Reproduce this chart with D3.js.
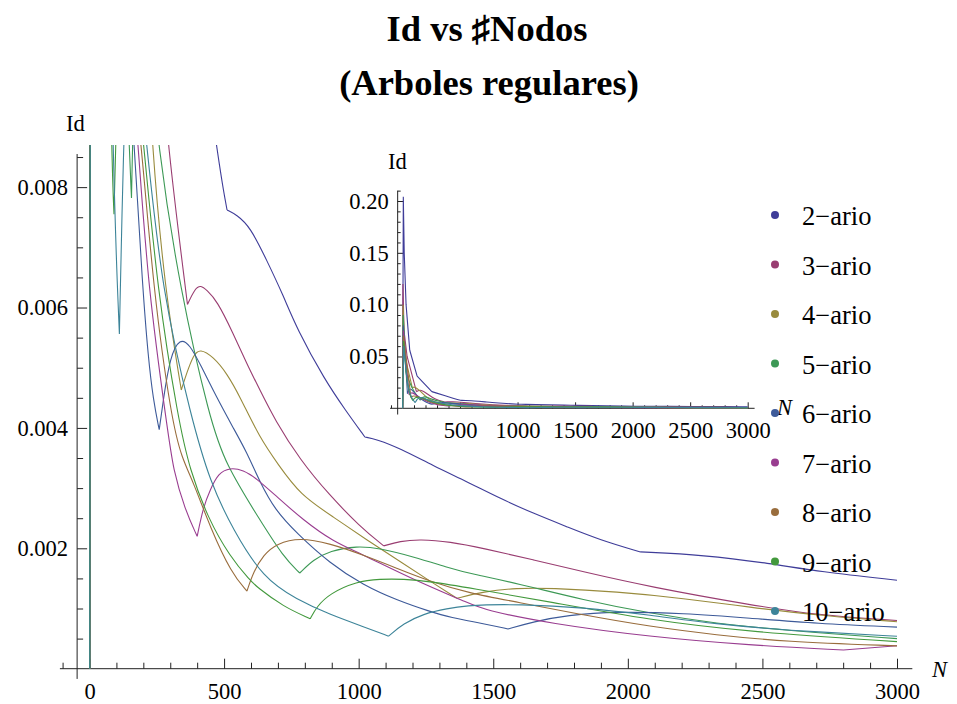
<!DOCTYPE html>
<html>
<head>
<meta charset="utf-8">
<script src="https://cdn.jsdelivr.net/npm/d3@7"></script>
<style>
  body { margin: 0; background: #fff; }
  text { font-family: "Liberation Serif", "Times New Roman", serif; }
</style>
</head>
<body>
<div id="chart"></div>
<script>
// Id values, as [N, Id] pairs
var ario2 = [[1,0],[7,0.204],[15,0.15],[31,0.1],[63,0.056],[127,0.031],[255,0.0161],[467,0.0087],[511,0.00762],[547,0.00754],[597,0.00734],[658,0.00679],[720,0.0062],[770,0.00565],[875,0.00479],[950,0.0043],[1023,0.00385],[1067,0.00381],[1154,0.00366],[1277,0.00337],[1401,0.00311],[1525,0.00283],[1649,0.00258],[1773,0.00236],[1896,0.00214],[2047,0.00194],[2280,0.00189],[2528,0.00175],[2714,0.00161],[3000,0.00147]];
var ario3 = [[1,0],[4,0.12],[13,0.075],[40,0.05],[121,0.016],[160,0.0185],[220,0.0135],[260,0.0105],[290,0.0087],[364,0.00605],[392,0.00632],[414,0.00637],[435,0.00629],[473,0.00612],[534,0.00557],[584,0.00507],[633,0.00463],[689,0.00413],[782,0.00347],[890,0.00289],[1005,0.00236],[1093,0.00204],[1153,0.00212],[1228,0.00215],[1339,0.00211],[1463,0.002],[1649,0.00181],[1834,0.00161],[2082,0.00136],[2454,0.00106],[2702,0.00089],[3000,0.0008]];
var ario4 = [[1,0],[5,0.1],[21,0.05],[85,0.02],[110,0.021],[150,0.017],[200,0.0115],[231,0.0087],[280,0.00629],[341,0.00463],[361,0.00491],[386,0.00521],[410,0.00532],[460,0.00518],[510,0.00491],[559,0.00452],[633,0.00383],[700,0.0034],[782,0.00289],[906,0.00252],[1030,0.00214],[1154,0.00178],[1277,0.00142],[1365,0.00117],[1463,0.00128],[1587,0.00134],[1711,0.00134],[1959,0.00128],[2206,0.00117],[2454,0.00102],[2702,0.00089],[3000,0.00078]];
var ario5 = [[1,0],[6,0.09],[31,0.035],[60,0.025],[100,0.016],[140,0.0098],[147,0.0087],[156,0.00782],[165,0.0098],[190,0.0115],[220,0.0105],[253,0.0087],[336,0.00629],[448,0.00413],[505,0.0034],[633,0.00247],[720,0.00186],[781,0.00159],[831,0.00181],[893,0.00196],[993,0.00204],[1079,0.002],[1203,0.00186],[1340,0.00167],[1414,0.00158],[1587,0.00142],[1835,0.00114],[2082,0.00092],[2330,0.00075],[2578,0.00064],[3000,0.0005]];
var ario6 = [[1,0],[7,0.08],[43,0.014],[60,0.02],[90,0.017],[130,0.0115],[165,0.0087],[198,0.00629],[218,0.00518],[237,0.00446],[259,0.00397],[274,0.00446],[299,0.00518],[336,0.0055],[373,0.00538],[410,0.00507],[473,0.0045],[534,0.004],[584,0.0036],[633,0.0031],[689,0.00264],[770,0.00225],[893,0.00175],[1017,0.00139],[1141,0.00114],[1265,0.00095],[1340,0.00085],[1463,0.00075],[1555,0.00066],[1649,0.00078],[1773,0.00089],[1959,0.00095],[2206,0.00092],[2454,0.00084],[2702,0.00075],[3000,0.00069]];
var ario7 = [[1,0],[8,0.075],[57,0.013],[80,0.016],[120,0.0125],[160,0.0098],[181,0.0087],[218,0.00629],[290,0.00397],[311,0.0033],[355,0.00264],[400,0.0022],[423,0.00269],[448,0.00297],[479,0.00325],[522,0.00334],[571,0.0033],[621,0.00316],[695,0.00286],[794,0.00247],[906,0.00211],[1005,0.00192],[1203,0.00148],[1414,0.00108],[1463,0.00098],[1711,0.00075],[2082,0.00053],[2454,0.00039],[2801,0.00031],[3000,0.00038]];
var ario8 = [[1,0],[9,0.07],[73,0.0105],[95,0.0125],[140,0.0108],[194,0.0087],[237,0.00629],[305,0.00413],[343,0.0035],[386,0.0031],[448,0.00235],[528,0.00158],[585,0.00129],[609,0.00161],[646,0.00189],[695,0.00208],[782,0.00218],[893,0.00208],[1017,0.00189],[1141,0.00167],[1265,0.00145],[1414,0.00125],[1587,0.00111],[1835,0.00089],[2082,0.0007],[2330,0.00056],[2578,0.00045],[3000,0.00038]];
var ario9 = [[1,0],[10,0.065],[40,0.02],[80,0.0087],[91,0.00755],[97,0.0087],[110,0.0105],[140,0.011],[175,0.0098],[202,0.0087],[252,0.00629],[330,0.00413],[373,0.0033],[440,0.0025],[522,0.00186],[596,0.00147],[621,0.00136],[720,0.00103],[820,0.00083],[844,0.00103],[893,0.00125],[993,0.00145],[1079,0.00149],[1166,0.00149],[1265,0.00145],[1414,0.00134],[1711,0.00111],[2082,0.00081],[2454,0.00061],[3000,0.00045]];
var ario10 = [[1,0],[11,0.06],[40,0.022],[82,0.0087],[111,0.00556],[126,0.0087],[140,0.0102],[170,0.0105],[213,0.0087],[268,0.00629],[380,0.00413],[448,0.0031],[534,0.0023],[646,0.0015],[770,0.00115],[893,0.0009],[1017,0.0007],[1111,0.00054],[1166,0.00075],[1240,0.00091],[1327,0.001],[1414,0.00105],[1463,0.00106],[1587,0.00107],[1835,0.00102],[2082,0.00089],[2330,0.00074],[2578,0.00064],[3000,0.00054]];

// sizes of the complete trees, where the curves break
var kinks2 = [7,15,31,63,127,255,511,1023,2047];
var kinks3 = [4,13,40,121,364,1093];
var kinks4 = [5,21,85,341,1365];
var kinks5 = [6,31,156,781];
var kinks6 = [7,43,259,1555];
var kinks7 = [8,57,400,2801];
var kinks8 = [9,73,585];
var kinks9 = [10,91,820];
var kinks10 = [11,111,1111];

var seriesNames = ["2\u2212ario","3\u2212ario","4\u2212ario","5\u2212ario","6\u2212ario","7\u2212ario","8\u2212ario","9\u2212ario","10\u2212ario"];
var seriesColors = ["#3f3d99","#993d71","#998b3d","#3d9956","#3d5a99","#993d90","#996d3d","#43993d","#3d8499"];
var seriesData = [ario2,ario3,ario4,ario5,ario6,ario7,ario8,ario9,ario10];
var seriesKinks = [kinks2,kinks3,kinks4,kinks5,kinks6,kinks7,kinks8,kinks9,kinks10];

var mainXTicks = [0,500,1000,1500,2000,2500,3000];
var mainYTicks = [0.002,0.004,0.006,0.008];
var insetXTicks = [500,1000,1500,2000,2500,3000];
var insetYTicks = [0.05,0.10,0.15,0.20];

var width = 957,
    height = 704;
var svg = d3.select('#chart').append('svg')
        .attr('width', width)
        .attr('height', height);

//Title
svg.append('text').attr('x', 487).attr('y', 41).attr('text-anchor', 'middle')
        .attr('font-size', 36.5).attr('font-weight', 'bold').text('Id vs \u266FNodos');
svg.append('text').attr('x', 489).attr('y', 95).attr('text-anchor', 'middle')
        .attr('font-size', 36.5).attr('font-weight', 'bold').text('(Arboles regulares)');

// split a series at its kinks, smooth inside each piece
function seriesPath(data, kinks, line) {
    var pieces = [], cur = [];
    data.forEach(function (d) {
        cur.push(d);
        if (kinks.indexOf(d[0]) >= 0) {
            pieces.push(cur);
            cur = [d];
        }
    });
    if (cur.length > 1) pieces.push(cur);
    return pieces.map(function (p) { return line(p); }).join('');
}

function drawPlot(g, x, y, o) {
    var axisColor = '#222';
    // axis lines, crossing a little past each other
    g.append('line').attr('x1', x(o.xFrom)).attr('x2', x(o.xTo))
            .attr('y1', y(0)).attr('y2', y(0)).attr('stroke', axisColor);
    g.append('line').attr('x1', x(o.yAt)).attr('x2', x(o.yAt))
            .attr('y1', y(o.yFrom)).attr('y2', y(o.yTo)).attr('stroke', axisColor);

    var xMinor = d3.range(-100, 3001, 100).filter(function (v) { return v % 500 !== 0; });
    g.append('g').attr('transform', 'translate(0,' + y(0) + ')')
            .call(d3.axisBottom(x).tickValues(xMinor).tickSizeInner(-o.minor).tickSizeOuter(0).tickFormat(''))
            .call(function (a) { a.select('.domain').remove(); });
    g.append('g').attr('transform', 'translate(0,' + y(0) + ')')
            .call(d3.axisBottom(x).tickValues(o.xTicks).tickSizeInner(-o.major).tickSizeOuter(0)
                    .tickPadding(o.xPad).tickFormat(d3.format('d')))
            .call(function (a) { a.select('.domain').remove(); });

    g.append('g').attr('transform', 'translate(' + x(o.yAt) + ',0)')
            .call(d3.axisLeft(y).tickValues(o.yMinor).tickSizeInner(-o.minor).tickSizeOuter(0).tickFormat(''))
            .call(function (a) { a.select('.domain').remove(); });
    g.append('g').attr('transform', 'translate(' + x(o.yAt) + ',0)')
            .call(d3.axisLeft(y).tickValues(o.yTicks).tickSizeInner(-o.major).tickSizeOuter(0)
                    .tickPadding(o.yPad).tickFormat(d3.format(o.yFmt)))
            .call(function (a) { a.select('.domain').remove(); });

    g.selectAll('.tick line').attr('stroke', axisColor);
    g.selectAll('.tick text').style('font-family', '"Liberation Serif", serif').attr('font-size', o.fs).attr('fill', '#000');

    var line = d3.line()
            .x(function (d) { return x(d[0]); })
            .y(function (d) { return y(d[1]); })
            .curve(d3.curveBasis);
    var lines = g.append('g');
    if (o.clip) lines.attr('clip-path', 'url(#' + o.clip + ')');
    seriesData.forEach(function (data, i) {
        lines.append('path')
                .attr('d', seriesPath(data, seriesKinks[i], line))
                .attr('fill', 'none')
                .attr('stroke', seriesColors[i])
                .attr('stroke-width', 1.1)
                .attr('stroke-linejoin', 'round');
    });

    g.append('text').attr('x', o.idX).attr('y', o.idY).attr('font-size', o.fs).text('Id');
    g.append('text').attr('x', o.nX).attr('y', o.nY).attr('font-size', o.fs)
            .attr('font-style', 'italic').text('N');
}

// main plot
var x = d3.scaleLinear().domain([0, 3000]).range([89.5, 897]);
var y = d3.scaleLinear().domain([0, 0.0087]).range([668.7, 145]);

svg.append('clipPath').attr('id', 'clipMain').append('rect')
        .attr('x', x(-110)).attr('y', y(0.0087))
        .attr('width', x(3057) - x(-110)).attr('height', y(-0.0002) - y(0.0087));

drawPlot(svg.append('g'), x, y, {
    xFrom: -110, xTo: 3057, yAt: -46, yFrom: -0.00017, yTo: 0.00855,
    xTicks: mainXTicks, yTicks: mainYTicks,
    yMinor: d3.range(1, 18).map(function (i) { return i * 0.0005; }).filter(function (v, i) { return (i + 1) % 4 !== 0; }),
    major: 10, minor: 6, xPad: 14, yPad: 9, yFmt: '.3f', fs: 22.5, clip: 'clipMain',
    idX: 66, idY: 131, nX: 932, nY: 677
});

// inset
var xi = d3.scaleLinear().domain([0, 3000]).range([402.5, 747.7]);
var yi = d3.scaleLinear().domain([0, 0.2]).range([408.3, 201]);

drawPlot(svg.append('g'), xi, yi, {
    xFrom: -108, xTo: 3060, yAt: -42, yFrom: -0.006, yTo: 0.21,
    xTicks: insetXTicks, yTicks: insetYTicks,
    yMinor: d3.range(1, 22).map(function (i) { return i * 0.01; }).filter(function (v, i) { return (i + 1) % 5 !== 0; }),
    major: 6, minor: 3, xPad: 14, yPad: 9, yFmt: '.2f', fs: 22.5, clip: null,
    idX: 388, idY: 169, nX: 777, nY: 415
});

// legend
var legend = svg.append('g').attr('transform', 'translate(775,215)');
var item = legend.selectAll('g').data(seriesNames).enter().append('g')
        .attr('transform', function (d, i) { return 'translate(0,' + i * 49.5 + ')'; });
item.append('circle').attr('r', 4).attr('fill', function (d, i) { return seriesColors[i]; });
item.append('text').attr('x', 27).attr('y', 10).attr('font-size', 26.5).text(function (d) { return d; });
</script>
</body>
</html>
